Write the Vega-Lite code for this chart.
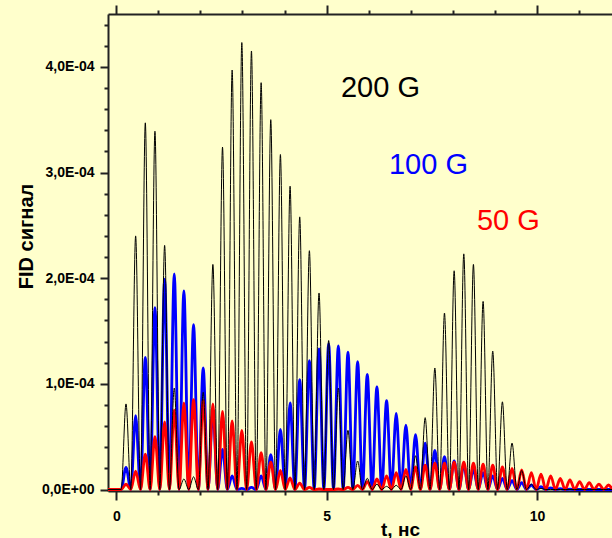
{
  "$schema": "https://vega.github.io/schema/vega-lite/v6.json",
  "width": 504,
  "height": 477,
  "autosize": "none",
  "padding": {"left": 108, "top": 14, "right": 0, "bottom": 47},
  "background": "#ffffcc",
  "config": {
    "view": {"stroke": null},
    "axis": {
      "grid": false,
      "domainColor": "#222222",
      "domainWidth": 2,
      "tickColor": "#222222",
      "tickWidth": 2,
      "labelFont": "Liberation Sans",
      "labelFontWeight": "bold",
      "labelFontSize": 14,
      "labelColor": "#000000",
      "labelFlush": false,
      "labelOverlap": false,
      "titleFont": "Liberation Sans",
      "titleFontWeight": "bold",
      "titleFontSize": 19,
      "titleColor": "#000000"
    }
  },
  "datasets": {
    "fid": [
      {"t": -0.2, "g200": 0, "g100": 0, "g50": 0},
      {"t": 0.116, "g200": 0, "g100": 0, "g50": 0},
      {"t": 0.231, "g200": 0.81e-4, "g100": 0.21e-4, "g50": 0.05e-4},
      {"t": 0.345, "g200": 0, "g100": 0, "g50": 0},
      {"t": 0.460, "g200": 2.40e-4, "g100": 0.70e-4, "g50": 0.175e-4},
      {"t": 0.575, "g200": 0, "g100": 0, "g50": 0},
      {"t": 0.690, "g200": 3.47e-4, "g100": 1.25e-4, "g50": 0.335e-4},
      {"t": 0.804, "g200": 0, "g100": 0, "g50": 0},
      {"t": 0.919, "g200": 3.39e-4, "g100": 1.72e-4, "g50": 0.50e-4},
      {"t": 1.034, "g200": 0, "g100": 0, "g50": 0},
      {"t": 1.149, "g200": 2.31e-4, "g100": 1.99e-4, "g50": 0.64e-4},
      {"t": 1.263, "g200": 0, "g100": 0, "g50": 0},
      {"t": 1.378, "g200": 0.96e-4, "g100": 2.04e-4, "g50": 0.75e-4},
      {"t": 1.492, "g200": 0, "g100": 0, "g50": 0},
      {"t": 1.607, "g200": 0.10e-4, "g100": 1.88e-4, "g50": 0.82e-4},
      {"t": 1.722, "g200": 0, "g100": 0, "g50": 0},
      {"t": 1.837, "g200": 0.12e-4, "g100": 1.56e-4, "g50": 0.85e-4},
      {"t": 1.951, "g200": 0, "g100": 0, "g50": 0},
      {"t": 2.066, "g200": 0.92e-4, "g100": 1.15e-4, "g50": 0.84e-4},
      {"t": 2.181, "g200": 0, "g100": 0, "g50": 0},
      {"t": 2.296, "g200": 2.13e-4, "g100": 0.74e-4, "g50": 0.81e-4},
      {"t": 2.410, "g200": 0, "g100": 0, "g50": 0},
      {"t": 2.525, "g200": 3.24e-4, "g100": 0.38e-4, "g50": 0.74e-4},
      {"t": 2.640, "g200": 0, "g100": 0, "g50": 0},
      {"t": 2.754, "g200": 3.97e-4, "g100": 0.13e-4, "g50": 0.65e-4},
      {"t": 2.869, "g200": 0, "g100": 0, "g50": 0},
      {"t": 2.984, "g200": 4.23e-4, "g100": 0.01e-4, "g50": 0.56e-4},
      {"t": 3.098, "g200": 0, "g100": 0, "g50": 0},
      {"t": 3.213, "g200": 4.15e-4, "g100": 0.02e-4, "g50": 0.45e-4},
      {"t": 3.328, "g200": 0, "g100": 0, "g50": 0},
      {"t": 3.443, "g200": 3.85e-4, "g100": 0.13e-4, "g50": 0.35e-4},
      {"t": 3.557, "g200": 0, "g100": 0, "g50": 0},
      {"t": 3.672, "g200": 3.50e-4, "g100": 0.33e-4, "g50": 0.26e-4},
      {"t": 3.787, "g200": 0, "g100": 0, "g50": 0},
      {"t": 3.901, "g200": 3.17e-4, "g100": 0.57e-4, "g50": 0.18e-4},
      {"t": 4.016, "g200": 0, "g100": 0, "g50": 0},
      {"t": 4.131, "g200": 2.87e-4, "g100": 0.82e-4, "g50": 0.11e-4},
      {"t": 4.245, "g200": 0, "g100": 0, "g50": 0},
      {"t": 4.360, "g200": 2.58e-4, "g100": 1.04e-4, "g50": 0.06e-4},
      {"t": 4.475, "g200": 0, "g100": 0, "g50": 0},
      {"t": 4.590, "g200": 2.26e-4, "g100": 1.22e-4, "g50": 0.02e-4},
      {"t": 4.704, "g200": 0, "g100": 0, "g50": 0},
      {"t": 4.819, "g200": 1.86e-4, "g100": 1.33e-4, "g50": 0.005e-4},
      {"t": 4.934, "g200": 0, "g100": 0, "g50": 0},
      {"t": 5.048, "g200": 1.41e-4, "g100": 1.38e-4, "g50": 0},
      {"t": 5.163, "g200": 0, "g100": 0, "g50": 0},
      {"t": 5.278, "g200": 0.96e-4, "g100": 1.36e-4, "g50": 0.005e-4},
      {"t": 5.392, "g200": 0, "g100": 0, "g50": 0},
      {"t": 5.507, "g200": 0.56e-4, "g100": 1.30e-4, "g50": 0.02e-4},
      {"t": 5.622, "g200": 0, "g100": 0, "g50": 0},
      {"t": 5.737, "g200": 0.27e-4, "g100": 1.21e-4, "g50": 0.04e-4},
      {"t": 5.851, "g200": 0, "g100": 0, "g50": 0},
      {"t": 5.966, "g200": 0.106e-4, "g100": 1.09e-4, "g50": 0.075e-4},
      {"t": 6.081, "g200": 0, "g100": 0, "g50": 0},
      {"t": 6.195, "g200": 0.05e-4, "g100": 0.97e-4, "g50": 0.10e-4},
      {"t": 6.310, "g200": 0, "g100": 0, "g50": 0},
      {"t": 6.425, "g200": 0.03e-4, "g100": 0.84e-4, "g50": 0.13e-4},
      {"t": 6.539, "g200": 0, "g100": 0, "g50": 0},
      {"t": 6.654, "g200": 0.04e-4, "g100": 0.72e-4, "g50": 0.16e-4},
      {"t": 6.769, "g200": 0, "g100": 0, "g50": 0},
      {"t": 6.884, "g200": 0.13e-4, "g100": 0.61e-4, "g50": 0.19e-4},
      {"t": 6.998, "g200": 0, "g100": 0, "g50": 0},
      {"t": 7.113, "g200": 0.32e-4, "g100": 0.52e-4, "g50": 0.215e-4},
      {"t": 7.228, "g200": 0, "g100": 0, "g50": 0},
      {"t": 7.342, "g200": 0.68e-4, "g100": 0.44e-4, "g50": 0.23e-4},
      {"t": 7.457, "g200": 0, "g100": 0, "g50": 0},
      {"t": 7.572, "g200": 1.15e-4, "g100": 0.37e-4, "g50": 0.25e-4},
      {"t": 7.686, "g200": 0, "g100": 0, "g50": 0},
      {"t": 7.801, "g200": 1.67e-4, "g100": 0.31e-4, "g50": 0.25e-4},
      {"t": 7.916, "g200": 0, "g100": 0, "g50": 0},
      {"t": 8.031, "g200": 2.07e-4, "g100": 0.27e-4, "g50": 0.26e-4},
      {"t": 8.145, "g200": 0, "g100": 0, "g50": 0},
      {"t": 8.260, "g200": 2.23e-4, "g100": 0.23e-4, "g50": 0.26e-4},
      {"t": 8.375, "g200": 0, "g100": 0, "g50": 0},
      {"t": 8.489, "g200": 2.13e-4, "g100": 0.19e-4, "g50": 0.25e-4},
      {"t": 8.604, "g200": 0, "g100": 0, "g50": 0},
      {"t": 8.719, "g200": 1.78e-4, "g100": 0.16e-4, "g50": 0.24e-4},
      {"t": 8.833, "g200": 0, "g100": 0, "g50": 0},
      {"t": 8.948, "g200": 1.31e-4, "g100": 0.13e-4, "g50": 0.23e-4},
      {"t": 9.063, "g200": 0, "g100": 0, "g50": 0},
      {"t": 9.178, "g200": 0.83e-4, "g100": 0.106e-4, "g50": 0.215e-4},
      {"t": 9.292, "g200": 0, "g100": 0, "g50": 0},
      {"t": 9.407, "g200": 0.44e-4, "g100": 0.083e-4, "g50": 0.20e-4},
      {"t": 9.522, "g200": 0, "g100": 0, "g50": 0},
      {"t": 9.636, "g200": 0.18e-4, "g100": 0.064e-4, "g50": 0.185e-4},
      {"t": 9.751, "g200": 0, "g100": 0, "g50": 0},
      {"t": 9.866, "g200": 0.05e-4, "g100": 0.043e-4, "g50": 0.16e-4},
      {"t": 9.980, "g200": 0, "g100": 0, "g50": 0},
      {"t": 10.095, "g200": 0.01e-4, "g100": 0.027e-4, "g50": 0.145e-4},
      {"t": 10.210, "g200": 0, "g100": 0, "g50": 0},
      {"t": 10.325, "g200": 0, "g100": 0.015e-4, "g50": 0.13e-4},
      {"t": 10.439, "g200": 0, "g100": 0, "g50": 0},
      {"t": 10.554, "g200": 0, "g100": 0.008e-4, "g50": 0.105e-4},
      {"t": 10.669, "g200": 0, "g100": 0, "g50": 0},
      {"t": 10.783, "g200": 0, "g100": 0.003e-4, "g50": 0.09e-4},
      {"t": 10.898, "g200": 0, "g100": 0, "g50": 0},
      {"t": 11.013, "g200": 0, "g100": 0, "g50": 0.075e-4},
      {"t": 11.127, "g200": 0, "g100": 0, "g50": 0},
      {"t": 11.242, "g200": 0, "g100": 0, "g50": 0.065e-4},
      {"t": 11.357, "g200": 0, "g100": 0, "g50": 0},
      {"t": 11.472, "g200": 0, "g100": 0, "g50": 0.052e-4},
      {"t": 11.586, "g200": 0, "g100": 0, "g50": 0},
      {"t": 11.701, "g200": 0, "g100": 0, "g50": 0.043e-4},
      {"t": 11.816, "g200": 0, "g100": 0, "g50": 0},
      {"t": 11.930, "g200": 0, "g100": 0, "g50": 0.035e-4},
      {"t": 12.045, "g200": 0, "g100": 0, "g50": 0}
    ],
    "notes": [
      {"t": 5.341, "v": 3.714e-4, "label": "200 G"},
      {"t": 6.482, "v": 2.986e-4, "label": "100 G"},
      {"t": 8.573, "v": 2.456e-4, "label": "50 G"}
    ]
  },
  "layer": [
    {
      "data": {"name": "fid"},
      "mark": {"type": "line", "color": "#0000ff", "strokeWidth": 2.8, "interpolate": "monotone", "clip": true},
      "encoding": {
        "x": {
          "field": "t", "type": "quantitative",
          "scale": {"domain": [-0.197, 11.783], "nice": false, "zero": false},
          "axis": {"orient": "bottom", "values": [1, 2, 3, 4, 6, 7, 8, 9, 11], "tickSize": 4, "labels": false, "domain": false, "title": null}
        },
        "y": {
          "field": "g100", "type": "quantitative",
          "scale": {"domain": [-0.014e-4, 4.5e-4], "nice": false, "zero": false},
          "axis": {"orient": "left", "values": [0.2e-4, 0.4e-4, 0.6e-4, 0.8e-4, 1.2e-4, 1.4e-4, 1.6e-4, 1.8e-4, 2.2e-4, 2.4e-4, 2.6e-4, 2.8e-4, 3.2e-4, 3.4e-4, 3.6e-4, 3.8e-4, 4.2e-4, 4.4e-4], "tickSize": 4, "labels": false, "domain": false, "title": null}
        }
      }
    },
    {
      "data": {"name": "fid"},
      "mark": {"type": "line", "color": "#ff0000", "strokeWidth": 2.8, "interpolate": "monotone", "clip": true},
      "encoding": {
        "x": {
          "field": "t", "type": "quantitative",
          "scale": {"domain": [-0.197, 11.783], "nice": false, "zero": false},
          "axis": {"orient": "top", "values": [0, 5, 10], "tickSize": 9, "labels": false, "title": null}
        },
        "y": {
          "field": "g50", "type": "quantitative",
          "scale": {"domain": [-0.014e-4, 4.5e-4], "nice": false, "zero": false},
          "axis": null
        }
      }
    },
    {
      "data": {"name": "fid"},
      "mark": {"type": "line", "color": "#000000", "strokeWidth": 1, "interpolate": "monotone", "clip": true},
      "encoding": {
        "x": {
          "field": "t", "type": "quantitative",
          "scale": {"domain": [-0.197, 11.783], "nice": false, "zero": false},
          "axis": {"orient": "bottom", "values": [0, 5, 10], "tickSize": 9, "labelPadding": 9, "title": "t, нс", "titleX": 292, "titleY": 44, "titleBaseline": "alphabetic", "titleAlign": "center"}
        },
        "y": {
          "field": "g200", "type": "quantitative",
          "scale": {"domain": [-0.014e-4, 4.5e-4], "nice": false, "zero": false},
          "axis": {
            "orient": "left", "values": [0, 1e-4, 2e-4, 3e-4, 4e-4], "tickSize": 8, "labelPadding": 6,
            "labelExpr": "datum.value == 0 ? '0,0E+00' : replace(format(datum.value * 10000, '.1f'), '.', ',') + 'E-04'",
            "title": "FID сигнал", "titleFontSize": 20, "titleX": -76, "titleY": 222, "titleBaseline": "alphabetic", "titleAlign": "center"
          }
        }
      }
    },
    {
      "data": {"name": "notes"},
      "mark": {"type": "text", "font": "Liberation Sans", "fontSize": 29, "align": "left", "baseline": "alphabetic"},
      "encoding": {
        "x": {
          "field": "t", "type": "quantitative",
          "scale": {"domain": [-0.197, 11.783], "nice": false, "zero": false},
          "axis": {"orient": "top", "values": [1, 2, 3, 4, 6, 7, 8, 9, 11], "tickSize": 4, "labels": false, "domain": false, "title": null}
        },
        "y": {
          "field": "v", "type": "quantitative",
          "scale": {"domain": [-0.014e-4, 4.5e-4], "nice": false, "zero": false},
          "axis": null
        },
        "text": {"field": "label"},
        "color": {
          "field": "label", "type": "nominal",
          "scale": {"domain": ["200 G", "100 G", "50 G"], "range": ["#000000", "#0000ff", "#ff0000"]},
          "legend": null
        }
      }
    }
  ],
  "resolve": {"axis": {"x": "independent", "y": "independent"}}
}
